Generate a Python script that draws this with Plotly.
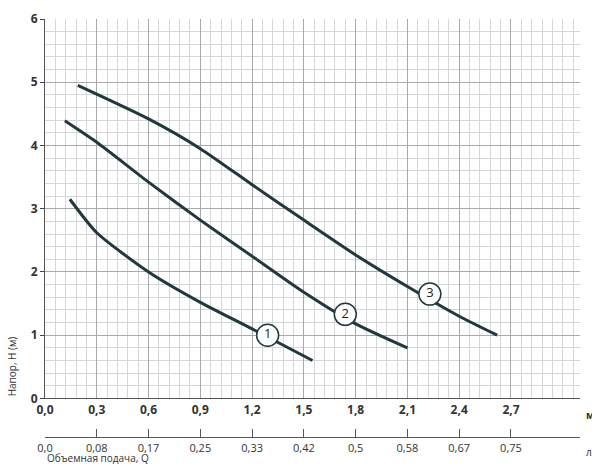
import plotly.graph_objects as go

x1 = [0.144, 0.3, 0.6, 0.9, 1.2, 1.55]
y1 = [3.15, 2.62, 2.0, 1.52, 1.1, 0.6]
x2 = [0.115, 0.3, 0.6, 0.9, 1.2, 1.5, 1.8, 2.1]
y2 = [4.39, 4.05, 3.42, 2.82, 2.25, 1.68, 1.18, 0.8]
x3 = [0.19, 0.6, 0.9, 1.2, 1.5, 1.8, 2.1, 2.4, 2.62]
y3 = [4.95, 4.42, 3.95, 3.38, 2.82, 2.27, 1.77, 1.3, 1.0]
label_x = [1.29, 1.74, 2.23]
label_y = [1.0, 1.33, 1.65]
label_t = ["1", "2", "3"]
m3h_ticks = [0, 0.3, 0.6, 0.9, 1.2, 1.5, 1.8, 2.1, 2.4, 2.7]
m3h_labels = ["0,0", "0,3", "0,6", "0,9", "1,2", "1,5", "1,8", "2,1", "2,4", "2,7"]
ls_labels = ["0,0", "0,08", "0,17", "0,25", "0,33", "0,42", "0,5", "0,58", "0,67", "0,75"]

C = "#1e3a3f"
fig = go.Figure()
for xs, ys in [(x1, y1), (x2, y2), (x3, y3)]:
    fig.add_trace(go.Scatter(x=xs, y=ys, mode="lines", line=dict(color=C, width=3, shape="spline", smoothing=0.6), showlegend=False))
fig.add_trace(go.Scatter(x=label_x, y=label_y, mode="markers+text", text=label_t,
                         marker=dict(size=22, color="white", line=dict(color=C, width=1.5)),
                         textfont=dict(size=13, color="#222"), showlegend=False))
fig.add_trace(go.Scatter(x=[0], y=[0], xaxis="x2", mode="markers", marker=dict(opacity=0), showlegend=False, hoverinfo="skip"))

fig.update_layout(
    width=600, height=469, margin=dict(l=37, r=28, t=9, b=2),
    plot_bgcolor="white", paper_bgcolor="white",
    font=dict(family="Open Sans", color="#333"),
    xaxis=dict(range=[0, 3.1], tickvals=m3h_ticks, ticktext=m3h_labels,
               tickfont=dict(size=12, family="Open Sans", weight="bold"),
               showline=True, linecolor="#555", zeroline=False,
               showgrid=True, gridcolor="#aaaaaa",
               minor=dict(showgrid=True, gridcolor="#d6d6d6", dtick=0.06)),
    yaxis=dict(range=[0, 6], domain=[0.153, 1], dtick=1, zeroline=False,
               tickfont=dict(size=12, family="Open Sans", weight="bold"),
               showline=True, linecolor="#555", ticks="outside", ticklen=4,
               showgrid=True, gridcolor="#aaaaaa",
               minor=dict(showgrid=True, gridcolor="#d6d6d6", dtick=0.2)),
    xaxis2=dict(range=[0, 3.1], anchor="free", position=0.066, overlaying="x",
                tickvals=m3h_ticks, ticktext=ls_labels, ticks="inside", ticklen=8,
                tickcolor="#555", showline=True, linecolor="#555", showgrid=False,
                tickfont=dict(size=11), zeroline=False),
    annotations=[
        dict(text="м³/ч", x=1.0, y=0.153, xref="paper", yref="paper", xanchor="left", yanchor="top",
             yshift=-8, xshift=4, showarrow=False, font=dict(size=10, weight="bold")),
        dict(text="л/с", x=1.0, y=0.066, xref="paper", yref="paper", xanchor="left", yanchor="top",
             yshift=-6, xshift=4, showarrow=False, font=dict(size=10)),
        dict(text="Объемная подача, Q", x=0, y=0, xref="paper", yref="paper", xanchor="left", yanchor="bottom",
             showarrow=False, font=dict(size=10)),
        dict(text="Напор, H (м)", x=-0.06, y=0.153, xref="paper", yref="paper", xanchor="center", yanchor="bottom",
             textangle=-90, showarrow=False, font=dict(size=10)),
    ],
)
fig.write_html("out.html")
